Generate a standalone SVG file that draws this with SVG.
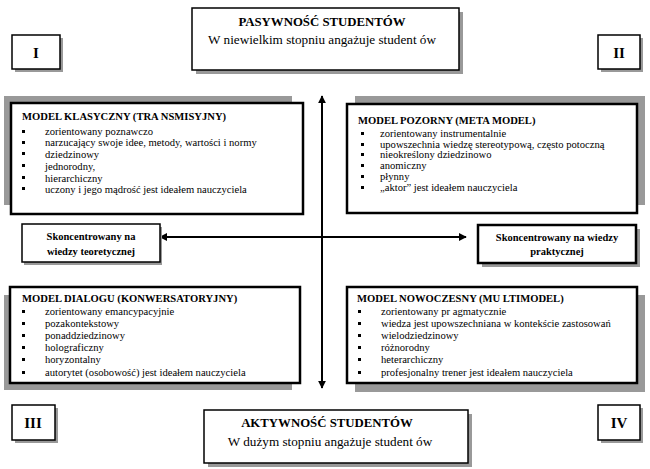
<svg xmlns="http://www.w3.org/2000/svg" width="650" height="469" viewBox="0 0 650 469">
<defs>
<marker id="ah" viewBox="0 0 10 10" refX="9" refY="5" markerWidth="8" markerHeight="8" markerUnits="userSpaceOnUse" orient="auto-start-reverse">
<path d="M0,0 L10,5 L0,10 z" fill="#000"/>
</marker>
</defs>
<style>
text{font-family:"Liberation Serif","Times New Roman",serif;fill:#000}
.box{fill:#fff;stroke:#000;stroke-width:1.5}
.tbox{fill:#fff;stroke:#000;stroke-width:2.5}
.sh{fill:#999}
.b{font-weight:bold}
.t{font-size:10.6px}
.h{font-size:10.6px;font-weight:bold}
.c{text-anchor:middle}
.rn{font-size:15px;font-weight:bold;text-anchor:middle}
.big{font-size:12.8px}
.sub{font-size:13.2px}
.mid{font-size:10.5px;font-weight:bold;text-anchor:middle}
.bul{fill:#000}
</style>
<rect width="650" height="469" fill="#fff"/>

<g id="connectors" stroke="#000" stroke-width="2" fill="none">
<line x1="322" y1="388" x2="322" y2="96" marker-end="url(#ah)" marker-start="url(#ah)"/>
<line x1="160" y1="237" x2="466" y2="237" marker-end="url(#ah)" marker-start="url(#ah)"/>
</g>

<g id="top">
<rect class="sh" x="196" y="12" width="267" height="62"/>
<rect class="box" x="192" y="8" width="267" height="62"/>
<text class="big b c" x="322" y="26">PASYWNOŚĆ STUDENTÓW</text>
<text class="sub c" x="322" y="44">W niewielkim stopniu  angażuje student ów</text>
</g>

<g id="n1">
<rect class="sh" x="15" y="38" width="48" height="34"/>
<rect class="box" x="12" y="35" width="48" height="34"/>
<text class="rn" x="36" y="58">I</text>
</g>
<g id="n2">
<rect class="sh" x="601" y="38" width="42" height="34"/>
<rect class="box" x="598" y="35" width="42" height="34"/>
<text class="rn" x="619" y="58">II</text>
</g>

<g id="q1">
<rect class="sh" x="4" y="96" width="288" height="109"/>
<rect class="tbox" x="11" y="103" width="292" height="111"/>
<text class="h" x="22" y="120">MODEL KLASYCZNY (TRA NSMISYJNY)</text>
<g class="bul"><rect x="22" y="130" width="3" height="3"/><rect x="22" y="141" width="3" height="3"/><rect x="22" y="152" width="3" height="3"/><rect x="22" y="164" width="3" height="3"/><rect x="22" y="176" width="3" height="3"/><rect x="22" y="187" width="3" height="3"/></g>
<text class="t" x="45" y="134.5">zorientowany poznawczo</text>
<text class="t" x="45" y="146">narzucający swoje idee, metody, wartości i normy</text>
<text class="t" x="45" y="157.5">dziedzinowy</text>
<text class="t" x="45" y="169.5">jednorodny,</text>
<text class="t" x="45" y="181.5">hierarchiczny</text>
<text class="t" x="45" y="193">uczony i jego mądrość jest ideałem nauczyciela</text>
</g>

<g id="q2">
<rect class="sh" x="355" y="96" width="290" height="109"/>
<rect class="tbox" x="347" y="104" width="290" height="109"/>
<text class="h" x="358" y="124">MODEL  POZORNY (META MODEL)</text>
<g class="bul"><rect x="361" y="132" width="3" height="3"/><rect x="361" y="143" width="3" height="3"/><rect x="361" y="153" width="3" height="3"/><rect x="361" y="164" width="3" height="3"/><rect x="361" y="175" width="3" height="3"/><rect x="361" y="186" width="3" height="3"/></g>
<text class="t" x="380" y="137">zorientowany instrumentalnie</text>
<text class="t" x="380" y="148">upowszechnia wiedzę stereotypową, często potoczną</text>
<text class="t" x="380" y="158">nieokreślony dziedzinowo</text>
<text class="t" x="380" y="169">anomiczny</text>
<text class="t" x="380" y="180">płynny</text>
<text class="t" x="380" y="191">„aktor” jest ideałem nauczyciela</text>
</g>

<g id="m1">
<rect class="sh" x="24" y="227" width="138" height="38"/>
<rect class="box" x="22" y="224" width="138" height="38"/>
<text class="mid" x="91" y="240">Skoncentrowany na</text>
<text class="mid" x="91" y="255">wiedzy teoretycznej</text>
</g>
<g id="m2">
<rect class="sh" x="482" y="229" width="158" height="38"/>
<rect class="tbox" x="478" y="225" width="158" height="38"/>
<text class="mid" x="557" y="241">Skoncentrowany na wiedzy</text>
<text class="mid" x="557" y="255">praktycznej</text>
</g>

<g id="q3">
<rect class="sh" x="4" y="295" width="288" height="95"/>
<rect class="tbox" x="10" y="287" width="290" height="96"/>
<text class="h" x="22" y="302">MODEL  DIALOGU (KONWERSATORYJNY)</text>
<g class="bul"><rect x="22" y="310" width="3" height="3"/><rect x="22" y="322" width="3" height="3"/><rect x="22" y="334" width="3" height="3"/><rect x="22" y="346" width="3" height="3"/><rect x="22" y="358" width="3" height="3"/><rect x="22" y="371" width="3" height="3"/></g>
<text class="t" x="45" y="315">zorientowany emancypacyjnie</text>
<text class="t" x="45" y="327">pozakontekstowy</text>
<text class="t" x="45" y="339">ponaddziedzinowy</text>
<text class="t" x="45" y="351">holograficzny</text>
<text class="t" x="45" y="363">horyzontalny</text>
<text class="t" x="45" y="376">autorytet (osobowość) jest ideałem nauczyciela</text>
</g>

<g id="q4">
<rect class="sh" x="355" y="295" width="290" height="97"/>
<rect class="tbox" x="347" y="287" width="290" height="96"/>
<text class="h" x="357" y="302">MODEL NOWOCZESNY (MU LTIMODEL)</text>
<g class="bul"><rect x="358" y="310" width="3" height="3"/><rect x="358" y="322" width="3" height="3"/><rect x="358" y="334" width="3" height="3"/><rect x="358" y="346" width="3" height="3"/><rect x="358" y="358" width="3" height="3"/><rect x="358" y="371" width="3" height="3"/></g>
<text class="t" x="381" y="315">zorientowany pr agmatycznie</text>
<text class="t" x="381" y="327">wiedza jest upowszechniana w kontekście zastosowań</text>
<text class="t" x="381" y="339">wielodziedzinowy</text>
<text class="t" x="381" y="351">różnorodny</text>
<text class="t" x="381" y="363">heterarchiczny</text>
<text class="t" x="381" y="376">profesjonalny trener jest ideałem nauczyciela</text>
</g>

<g id="n3">
<rect class="sh" x="15" y="408" width="43" height="35"/>
<rect class="box" x="12" y="405" width="43" height="35"/>
<text class="rn" x="33" y="428">III</text>
</g>
<g id="n4">
<rect class="sh" x="601" y="408" width="42" height="35"/>
<rect class="box" x="598" y="405" width="42" height="35"/>
<text class="rn" x="619" y="428">IV</text>
</g>

<g id="bottom">
<rect class="sh" x="208" y="414" width="264" height="53"/>
<rect class="box" x="204" y="410" width="264" height="53"/>
<text class="big b c" x="327" y="427">AKTYWNOŚĆ STUDENTÓW</text>
<text class="sub c" x="330" y="446">W dużym stopniu  angażuje student ów</text>
</g>
</svg>
